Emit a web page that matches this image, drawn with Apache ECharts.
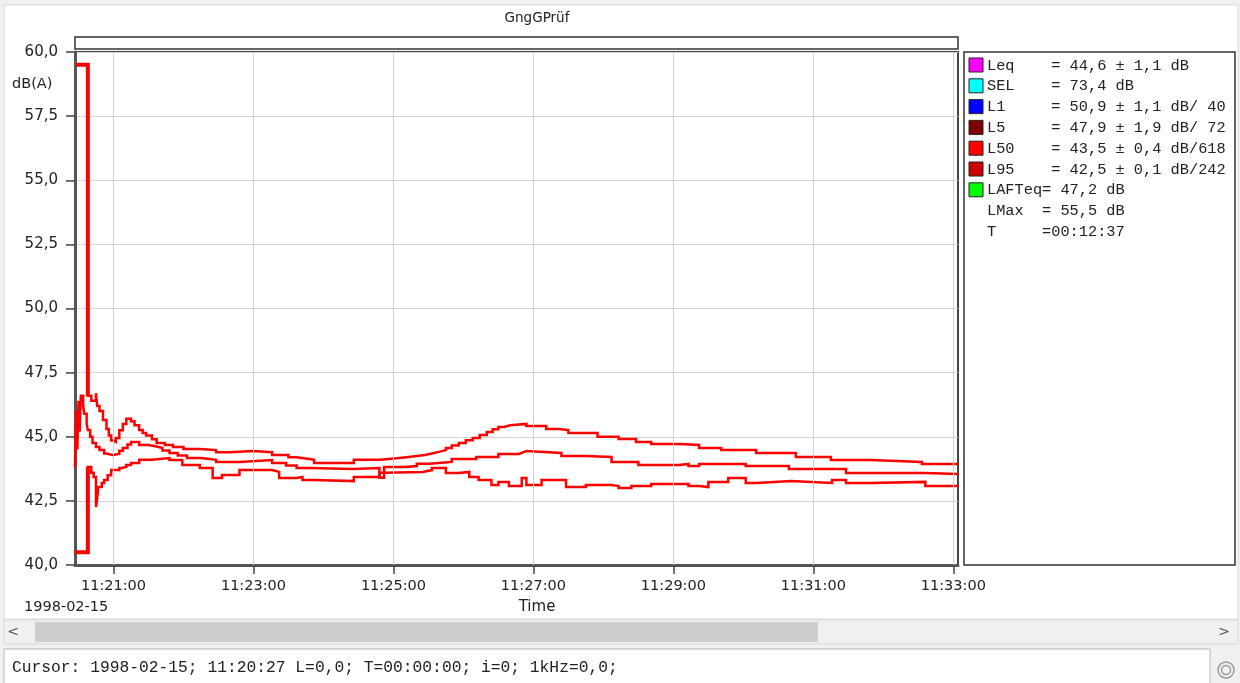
<!DOCTYPE html>
<html><head><meta charset="utf-8">
<script src="https://cdn.jsdelivr.net/npm/echarts@6/dist/echarts.min.js"></script>
<style>html,body{margin:0;padding:0;background:#f0f0f0;overflow:hidden}#c{width:1240px;height:683px}</style>
</head><body><div id="c"></div>
<script>
// ---------- data ----------
const chartTitle = 'GngGPrüf';
const yUnit = 'dB(A)';
const dateLabel = '1998-02-15';
const xName = 'Time';
const yMin = 40, yMax = 60, yStep = 2.5;
const xStart = '11:20:27', xEnd = '11:33:04';
const xTickLabels = ['11:21:00','11:23:00','11:25:00','11:27:00','11:29:00','11:31:00','11:33:00'];

// upper running level
const upperLine = [
 ['11:20:28',59.5],['11:20:38',46.6],['11:20:41',46.4],['11:20:45',46.7],['11:20:46',46.2],['11:20:48',46.0],
 ['11:20:51',45.65],['11:20:54',45.3],['11:20:56',45.05],['11:20:58',44.85],['11:21:00',44.8],['11:21:02',44.95],
 ['11:21:05',45.25],['11:21:08',45.5],['11:21:11',45.7],['11:21:15',45.6],['11:21:18',45.45],['11:21:22',45.26],
 ['11:21:25',45.15],['11:21:28',45.05],['11:21:33',44.9],['11:21:37',44.76],['11:21:44',44.68],['11:21:51',44.6],['11:22:00',44.52],
 ['11:22:14',44.48],['11:22:28',44.4],['11:22:40',44.44],['11:22:59',44.4],['11:23:16',44.29],['11:23:30',44.2],
 ['11:23:37',44.13],['11:23:48',44.1],['11:23:52',43.98],['11:24:26',44.1],['11:24:49',44.17],['11:25:05',44.21],
 ['11:25:13',44.25],['11:25:20',44.29],['11:25:27',44.35],['11:25:33',44.41],['11:25:39',44.48],['11:25:45',44.56],
 ['11:25:50',44.66],['11:25:56',44.76],['11:26:02',44.86],['11:26:08',44.95],['11:26:14',45.07],['11:26:20',45.19],
 ['11:26:25',45.29],['11:26:30',45.38],['11:26:35',45.45],['11:26:40',45.5],['11:26:54',45.42],['11:27:11',45.3],
 ['11:27:22',45.26],['11:27:30',45.15],['11:27:55',45.0],['11:28:13',44.91],['11:28:28',44.8],['11:28:41',44.72],
 ['11:29:05',44.68],['11:29:22',44.56],['11:29:41',44.48],['11:30:11',44.37],['11:30:45',44.21],['11:31:15',44.09],
 ['11:31:49',44.02],['11:32:33',43.94],['11:33:04',43.94]
];
// middle running level
const middleLine = [
 ['11:20:27',43.8],['11:20:28',46.0],['11:20:29',44.5],['11:20:30',46.4],['11:20:31',45.2],['11:20:32',46.6],
 ['11:20:34',46.2],['11:20:35',45.9],['11:20:37',45.5],['11:20:38',45.26],['11:20:40',45.0],['11:20:42',44.76],
 ['11:20:45',44.6],['11:20:48',44.48],['11:20:52',44.35],['11:20:54',44.29],['11:20:59',44.33],['11:21:05',44.45],
 ['11:21:08',44.56],['11:21:12',44.7],['11:21:15',44.8],['11:21:22',44.68],['11:21:30',44.62],['11:21:37',44.56],['11:21:42',44.46],
 ['11:21:48',44.37],['11:21:55',44.27],['11:22:03',44.17],['11:22:15',44.1],['11:22:28',44.02],['11:22:48',44.09],
 ['11:23:16',43.98],['11:23:28',43.88],['11:23:37',43.78],['11:23:48',43.74],['11:24:25',43.78],['11:24:48',43.4],
 ['11:24:52',43.82],['11:25:10',43.86],['11:25:20',43.95],['11:25:31',44.02],['11:25:50',44.13],['11:26:11',44.21],
 ['11:26:30',44.33],['11:26:48',44.37],['11:26:50',44.44],['11:26:54',44.37],['11:27:24',44.25],['11:27:45',44.21],
 ['11:28:07',44.02],['11:28:30',43.9],['11:29:05',43.94],['11:29:13',43.86],['11:29:22',43.94],['11:30:02',43.86],
 ['11:30:39',43.74],['11:31:28',43.59],['11:32:36',43.55],['11:33:04',43.55]
];
// lower running level
const lowerLine = [
 ['11:20:27',40.5],['11:20:38',43.82],['11:20:41',43.6],['11:20:43',43.43],['11:20:45',42.26],['11:20:46',42.6],
 ['11:20:47',43.04],['11:20:50',43.2],['11:20:52',43.31],['11:20:55',43.5],['11:20:58',43.7],['11:21:05',43.78],
 ['11:21:07',43.82],['11:21:11',43.9],['11:21:15',43.98],['11:21:22',44.1],['11:21:33',44.17],['11:21:48',44.09],['11:21:59',43.9],
 ['11:22:14',43.78],['11:22:25',43.39],['11:22:33',43.51],['11:22:48',43.7],['11:23:16',43.63],['11:23:22',43.39],
 ['11:23:37',43.43],['11:23:42',43.31],['11:23:52',43.27],['11:24:26',43.43],['11:24:48',43.6],['11:24:52',43.63],
 ['11:25:25',43.7],['11:25:33',43.78],['11:25:45',43.59],['11:25:56',43.63],['11:26:05',43.43],['11:26:13',43.31],
 ['11:26:24',43.12],['11:26:30',43.24],['11:26:39',43.08],['11:26:50',43.39],['11:26:54',43.12],['11:27:07',43.31],
 ['11:27:28',43.04],['11:27:45',43.12],['11:28:07',43.08],['11:28:13',43.0],['11:28:24',43.08],['11:28:41',43.16],
 ['11:29:13',43.08],['11:29:22',43.04],['11:29:30',43.24],['11:29:47',43.39],['11:30:02',43.2],['11:30:11',43.27],
 ['11:30:41',43.2],['11:31:16',43.31],['11:31:28',43.2],['11:31:49',43.24],['11:32:36',43.08],['11:33:04',43.08]
];
// first (bold) samples
const upperStart = [['11:20:28',59.5],['11:20:38',46.6]];
const lowerStart = [['11:20:27',40.5],['11:20:38',43.82]];

// legend panel
const legendTexts  = ['Leq    = 44,6 ± 1,1 dB','SEL    = 73,4 dB','L1     = 50,9 ± 1,1 dB/ 40','L5     = 47,9 ± 1,9 dB/ 72',
                      'L50    = 43,5 ± 0,4 dB/618','L95    = 42,5 ± 0,1 dB/242','LAFTeq= 47,2 dB','LMax  = 55,5 dB','T     =00:12:37'];
const legendColors = ['#ff00ff','#00ffff','#0000ff','#800000','#ff0000','#cc0000','#00ff00',null,null];
const statusText = 'Cursor: 1998-02-15; 11:20:27 L=0,0; T=00:00:00; i=0; 1kHz=0,0;';

// ---------- helpers ----------
function sec(t){const p=t.split(':').map(Number);return p[0]*3600+p[1]*60+p[2];}
function hms(s){const h=Math.floor(s/3600),m=Math.floor(s%3600/60),x=Math.round(s%60);return [h,m,x].map(v=>String(v).padStart(2,'0')).join(':');}
const toPts = a => a.map(d=>[sec(d[0]),d[1]]);
const xTickVals = xTickLabels.map(sec);

const chart = echarts.init(document.getElementById('c'),null,{renderer:'canvas'});
const G = {left:75, top:52, right:958, bottom:565};
const SANS = '"DejaVu Sans", Verdana, sans-serif';
const MONO = '"Liberation Mono", "DejaVu Sans Mono", monospace';
const mkLine = (data,w,z)=>({type:'line',data:toPts(data),step:'end',symbol:'none',silent:true,
   lineStyle:{color:'#ff0000',width:w,join:'miter'},z:z,animation:false});

const graphics = [];
graphics.push({type:'rect',z:-10,shape:{x:4,y:5,width:1234,height:614},style:{fill:'#ffffff',stroke:'#d8d8d8',lineWidth:1}});
graphics.push({type:'rect',shape:{x:75,y:37,width:883,height:12},style:{fill:'#fff',stroke:'#333',lineWidth:1.5}});
graphics.push({type:'text',x:537,y:18,style:{text:chartTitle,align:'center',verticalAlign:'middle',font:'13.5px '+SANS,fill:'#222'}});
graphics.push({type:'text',x:12,y:84,style:{text:yUnit,verticalAlign:'middle',font:'14.5px '+SANS,fill:'#222'}});
graphics.push({type:'text',x:24,y:607,style:{text:dateLabel,verticalAlign:'middle',font:'14.5px '+SANS,fill:'#222'}});
graphics.push({type:'text',x:537,y:607,style:{text:xName,align:'center',verticalAlign:'middle',font:'15px '+SANS,fill:'#222'}});
graphics.push({type:'rect',shape:{x:964,y:52,width:271,height:513},style:{fill:'#fff',stroke:'#333',lineWidth:1.5}});
legendTexts.forEach((t,i)=>{
  const cy = 65.5 + i*20.8;
  if(legendColors[i]) graphics.push({type:'rect',shape:{x:969,y:cy-7.5,width:14,height:14},style:{fill:legendColors[i],stroke:'#222',lineWidth:1}});
  graphics.push({type:'text',x:987,y:cy,style:{text:t,verticalAlign:'middle',font:'15.3px '+MONO,fill:'#222'}});
});
graphics.push({type:'rect',shape:{x:4,y:620,width:1234,height:24},style:{fill:'#f0f0f0',stroke:'#d8d8d8',lineWidth:1}});
graphics.push({type:'rect',shape:{x:35,y:622,width:783,height:20},style:{fill:'#cdcdcd'}});
graphics.push({type:'text',x:13,y:632,style:{text:'<',align:'center',verticalAlign:'middle',font:'14px '+SANS,fill:'#555'}});
graphics.push({type:'text',x:1224,y:632,style:{text:'>',align:'center',verticalAlign:'middle',font:'14px '+SANS,fill:'#555'}});
graphics.push({type:'rect',shape:{x:4,y:649,width:1206,height:36},style:{fill:'#fff',stroke:'#b8b8b8',lineWidth:1}});
graphics.push({type:'text',x:12,y:668,style:{text:statusText,verticalAlign:'middle',font:'16.3px '+MONO,fill:'#222'}});
graphics.push({type:'circle',shape:{cx:1226,cy:670,r:8},style:{fill:'none',stroke:'#999',lineWidth:1.5}});
graphics.push({type:'circle',shape:{cx:1226,cy:670,r:4.5},style:{fill:'none',stroke:'#999',lineWidth:1.5}});

const option = {
  animation:false,
  backgroundColor:'#f0f0f0',
  grid:{left:G.left, top:G.top, width:G.right-G.left, height:G.bottom-G.top, show:true, backgroundColor:'#fff', borderColor:'#444', borderWidth:2},
  xAxis:{type:'value', min:sec(xStart), max:sec(xEnd),
    axisLine:{show:true,lineStyle:{color:'#555',width:3}},
    axisTick:{show:true,customValues:xTickVals,length:9,lineStyle:{color:'#444',width:1.5}},
    axisLabel:{customValues:xTickVals,formatter:v=>hms(v),fontSize:14.5,color:'#222',margin:14,fontFamily:SANS},
    splitLine:{show:false}},
  yAxis:{type:'value', min:yMin, max:yMax, interval:yStep,
    axisLine:{show:true,lineStyle:{color:'#555',width:3}},
    axisTick:{show:true,length:9,lineStyle:{color:'#444',width:1.5}},
    axisLabel:{formatter:v=>v.toFixed(1).replace('.',','),fontSize:15,color:'#222',margin:17,fontFamily:SANS},
    splitLine:{show:true,lineStyle:{color:'#d2d2d2',width:1}}},
  series:[
    {type:'line',data:[],silent:true,z:1,markLine:{silent:true,symbol:['none','none'],label:{show:false},animation:false,
      lineStyle:{color:'#d2d2d2',width:1,type:'solid'},data:xTickVals.map(v=>({xAxis:v}))}},
    mkLine(upperLine,2.5,3), mkLine(middleLine,2.5,3), mkLine(lowerLine,2.5,3),
    mkLine(upperStart,4,4), mkLine(lowerStart,4,4)
  ],
  graphic:graphics
};
chart.setOption(option);
</script></body></html>
